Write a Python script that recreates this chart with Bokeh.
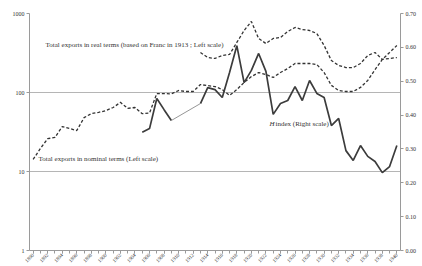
import math
from bokeh.plotting import figure
from bokeh.models import Range1d, LinearAxis, FixedTicker, NumeralTickFormatter, Label, LinearScale
from bokeh.embed import file_html
from bokeh.resources import INLINE

# ---------------- data ----------------
years = list(range(1890, 1941))
nominal_exports = [14.2, 19.6, 26, 27, 37, 35, 33, 48, 54, 56,
                   59, 64.6, 75, 63, 64.6, 54, 55, 97, 97, 96,
                   106, 103, 103, 126, 122, 119, 109, 92, 109, 134,
                   159, 179, 169, 155, 179, 201, 233, 233, 233, 226,
                   179, 123, 106, 103, 103, 116, 142, 195, 262, 321,
                   394]
real_years = list(range(1913, 1941))
real_exports = [321, 277, 270, 294, 303, 430, 609, 792, 483, 417,
                483, 497, 592, 665, 627, 609, 558, 394, 254, 220,
                207, 207, 233, 294, 321, 262, 270, 277]
nan = float("nan")
h_years = list(range(1905, 1941))
h_index = [0.349, 0.360, 0.449, 0.416, 0.384, nan, nan, nan, 0.434, 0.481,
           0.475, 0.452, 0.526, 0.605, 0.496, 0.532, 0.582, 0.529, 0.402, 0.434,
           0.443, 0.484, 0.443, 0.502, 0.464, 0.452, 0.369, 0.390, 0.295, 0.266,
           0.310, 0.278, 0.263, 0.230, 0.248, 0.310]
tick_years = list(range(1890, 1941, 2))
left_ticks = [1, 10, 100, 1000]
right_ticks = [0.0, 0.1, 0.2, 0.3, 0.4, 0.5, 0.6, 0.7]

FONT = "Liberation Serif"
INK = "#333333"
AXIS = "#9a9a9a"

p = figure(width=422, height=266, y_axis_type="log",
           x_range=Range1d(1889.5, 1940.5), y_range=Range1d(1, 1000),
           output_backend="svg", toolbar_location=None,
           min_border_left=29, min_border_right=22,
           min_border_top=13, min_border_bottom=16)
p.outline_line_color = None
p.background_fill_color = "white"
p.extra_y_ranges = {"right": Range1d(0, 0.7)}
p.extra_y_scales = {"right": LinearScale()}

# grid
p.xgrid.visible = False
p.ygrid.ticker = FixedTicker(ticks=[10, 100, 1000])
p.ygrid.grid_line_color = "#b5b5b5"
p.ygrid.grid_line_width = 1

# left axis
ly = p.yaxis[0]
ly.ticker = FixedTicker(ticks=left_ticks)
ly.formatter = NumeralTickFormatter(format="0")

# right axis
ry = LinearAxis(y_range_name="right", ticker=FixedTicker(ticks=right_ticks),
                formatter=NumeralTickFormatter(format="0.00"))
p.add_layout(ry, "right")

# x axis
xa = p.xaxis[0]
xa.ticker = FixedTicker(ticks=tick_years, minor_ticks=years)
xa.major_label_orientation = math.pi / 4

for ax in (ly, ry, xa):
    ax.axis_line_color = AXIS
    ax.major_tick_line_color = AXIS
    ax.major_tick_out = 3
    ax.major_tick_in = 0
    ax.major_label_text_font = FONT
    ax.major_label_text_color = INK
    ax.major_label_standoff = 2
for ax in (ly, ry):
    ax.minor_tick_line_color = None
    ax.major_label_text_font_size = "6px"
xa.minor_tick_line_color = AXIS
xa.minor_tick_out = 3
xa.minor_tick_in = 0
xa.major_label_text_font_size = "5px"
xa.major_label_standoff = 1

# series
p.line(years, nominal_exports, line_dash="3 2", line_width=1.3, line_color=INK)
p.line(real_years, real_exports, line_dash="3 2", line_width=1.3, line_color=INK)
p.line(h_years, h_index, y_range_name="right", line_width=1.7, line_color="#3c3c3c")
# thin bridge across the missing H-index years
p.line([h_years[4], h_years[8]], [h_index[4], h_index[8]], y_range_name="right",
       line_width=0.9, line_color="#8a8a8a")

def lab(x, y, text, size="7px", style="normal", rng="default"):
    p.add_layout(Label(x=x, y=y, text=text, text_font=FONT, text_font_size=size,
                       text_font_style=style, text_color=INK, text_baseline="middle",
                       text_align="left", y_range_name=rng))

lab(1885.58, 1262, "(Million piastre ; Logarithmic scale)")
lab(1891.70, 394, "Total exports in real terms (based on Franc in 1913 ; Left scale)")
lab(1890.74, 14.2, "Total exports in nominal terms (Left scale)")
lab(1922.49, 0.375, "H", style="italic", rng="right")
lab(1923.32, 0.375, "index (Right scale)", rng="right")

open("out.html", "w").write(file_html(p, INLINE))
